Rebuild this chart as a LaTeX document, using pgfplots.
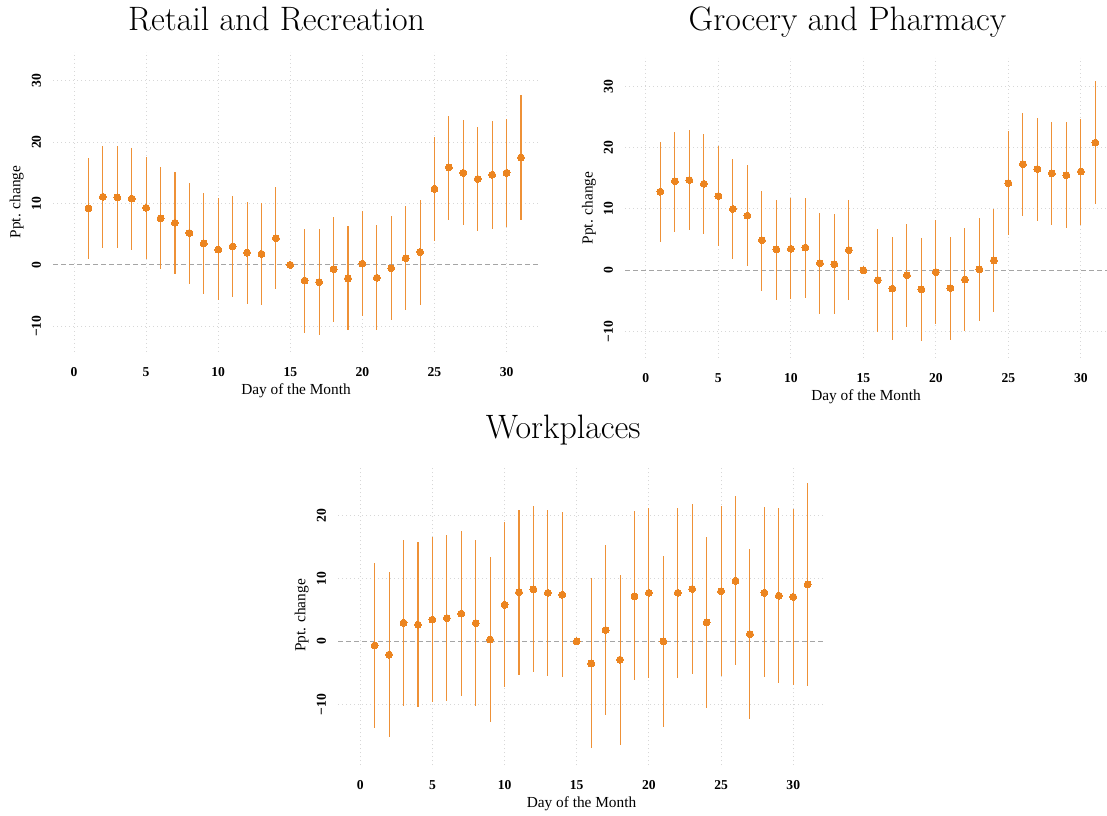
\documentclass[border=0pt]{standalone}
\usepackage{pgfplots}
\pgfplotsset{compat=1.18}
\usepackage{pgfplotstable}
\usepackage{fontspec}
\newfontfamily\labfont{Liberation Serif}
\definecolor{dotc}{RGB}{236,133,32}
\definecolor{barc}{RGB}{238,145,55}
\definecolor{gridc}{RGB}{215,215,215}
\definecolor{zeroc}{RGB}{165,165,165}

\pgfplotstableread{
d v lo hi
1 9.24 0.9 17.4
2 11.1 2.8 19.3
3 11.0 2.7 19.3
4 10.8 2.4 19.0
5 9.3 1.0 17.6
6 7.6 -0.7 15.9
7 6.85 -1.5 15.1
8 5.2 -3.1 13.4
9 3.5 -4.8 11.7
10 2.5 -5.8 10.9
11 3.0 -5.3 11.3
12 2.0 -6.4 10.2
13 1.8 -6.6 10.05
14 4.35 -4.0 12.7
15 0 0 0
16 -2.55 -11.1 5.9
17 -2.8 -11.4 5.8
18 -0.7 -9.3 7.8
19 -2.2 -10.65 6.4
20 0.2 -8.3 8.75
21 -2.1 -10.65 6.5
22 -0.55 -9.0 8.0
23 1.1 -7.4 9.6
24 2.1 -6.5 10.6
25 12.4 3.9 20.9
26 15.9 7.3 24.3
27 15.0 6.5 23.6
28 14.0 5.5 22.55
29 14.7 5.9 23.4
30 15.0 6.2 23.75
31 17.5 7.3 27.7
}\retail

\pgfplotstableread{
d v lo hi
1 12.8 4.6 20.9
2 14.5 6.25 22.6
3 14.7 6.5 22.9
4 14.1 5.9 22.2
5 12.1 4.0 20.3
6 10.0 1.8 18.15
7 8.9 0.7 17.1
8 4.9 -3.3 13.0
9 3.4 -4.8 11.5
10 3.5 -4.7 11.7
11 3.7 -4.5 11.85
12 1.15 -7.1 9.3
13 1.0 -7.2 9.2
14 3.3 -4.9 11.4
15 0 0 0
16 -1.6 -10.0 6.7
17 -3.0 -11.4 5.4
18 -0.8 -9.2 7.6
19 -3.1 -11.5 5.3
20 -0.3 -8.7 8.2
21 -2.9 -11.3 5.5
22 -1.5 -9.9 6.9
23 0.15 -8.3 8.5
24 1.6 -6.85 10.0
25 14.2 5.8 22.7
26 17.3 8.9 25.7
27 16.5 8.1 24.9
28 15.8 7.3 24.2
29 15.5 6.85 24.2
30 16.1 7.4 24.7
31 20.8 10.8 30.9
}\grocery

\pgfplotstableread{
d v lo hi
1 -0.65 -13.7 12.4
2 -2.1 -15.2 11.0
3 2.95 -10.2 16.1
4 2.65 -10.4 15.8
5 3.45 -9.6 16.6
6 3.7 -9.4 16.8
7 4.4 -8.7 17.5
8 2.9 -10.2 16.0
9 0.3 -12.8 13.4
10 5.8 -7.3 19.0
11 7.8 -5.3 20.85
12 8.25 -4.8 21.4
13 7.7 -5.45 20.85
14 7.4 -5.7 20.5
15 0 0 0
16 -3.5 -16.9 10.0
17 1.8 -11.7 15.3
18 -2.9 -16.4 10.5
19 7.15 -6.2 20.6
20 7.7 -5.8 21.2
21 0.0 -13.5 13.5
22 7.7 -5.8 21.2
23 8.3 -5.2 21.75
24 3.0 -10.5 16.5
25 7.95 -5.55 21.4
26 9.6 -3.8 23.1
27 1.15 -12.3 14.65
28 7.7 -5.7 21.3
29 7.25 -6.55 21.2
30 7.05 -6.9 21.0
31 9.05 -7.05 25.1
}\workplaces

\pgfplotsset{
  panel/.style={
    scale only axis,
    axis line style={draw=none},
    major tick length=0pt,
    tick style={draw=none},
    xmajorgrids, ymajorgrids,
    grid style={gridc, line width=0.75pt, dash pattern=on 0.75pt off 2.25pt},
    xtick={0,5,...,30},
    xticklabels={0,5,10,15,20,25,30},
    xticklabel style={font=\labfont\bfseries\fontsize{10.2}{11}\selectfont, anchor=north, inner sep=0pt, yshift=-11.5pt},
    yticklabel style={font=\labfont\bfseries\fontsize{10.2}{11}\selectfont, rotate=90, anchor=south, inner sep=0pt, inner ysep=8.8pt},
    xlabel={Day of the Month},
    ylabel={Ppt. change},
    label style={font=\labfont\fontsize{11.5}{13}\selectfont},
    xlabel style={at={(axis description cs:0.5,0)}, anchor=base, yshift=-31.7pt},
    ylabel style={at={(axis description cs:-0.067,0.5)}, anchor=base},
    title style={font=\fontsize{25.4}{30}\selectfont, anchor=base},
  },
  bars/.style={only marks, mark=none, color=barc, forget plot,
    error bars/.cd, y dir=both, y explicit, error mark=none,
    error bar style={line width=0.8pt, color=barc}},
  pts/.style={only marks, mark=*, mark size=2.6pt, color=dotc,
    mark options={draw=dotc, fill=dotc, line width=0pt}},
  zl/.style={zeroc, line width=0.75pt, dash pattern=on 3.75pt off 2.25pt, forget plot},
}

\begin{document}
\begin{tikzpicture}
\useasboundingbox (0pt,0pt) rectangle (830.25pt,611.25pt);

\begin{axis}[panel, at={(39.75pt,347.25pt)}, anchor=south west,
  width=364.5pt, height=225pt,
  xmin=-1.46, xmax=32.25, ymin=-14.2, ymax=34.7,
  ytick={-10,0,10,20,30}, yticklabels={−10,0,10,20,30},
  title={Retail and Recreation},
  title style={at={(axis description cs:0.46,1)}, yshift=9.75pt}]
\addplot[zl] coordinates {(-1.46,0) (32.25,0)};
\addplot[bars] table[x=d, y=v, y error plus expr=\thisrow{hi}-\thisrow{v}, y error minus expr=\thisrow{v}-\thisrow{lo}] {\retail};
\addplot[pts] table[x=d, y=v] {\retail};
\end{axis}

\begin{axis}[panel, at={(468.75pt,342.75pt)}, anchor=south west,
  width=361.5pt, height=225pt,
  xmin=-1.44, xmax=31.8, ymin=-14.3, ymax=34.6,
  ytick={-10,0,10,20,30}, yticklabels={−10,0,10,20,30},
  title={Grocery and Pharmacy},
  title style={at={(axis description cs:0.4616,1)}, yshift=14.5pt}]
\addplot[zl] coordinates {(-1.44,0) (31.8,0)};
\addplot[bars] table[x=d, y=v, y error plus expr=\thisrow{hi}-\thisrow{v}, y error minus expr=\thisrow{v}-\thisrow{lo}] {\grocery};
\addplot[pts] table[x=d, y=v] {\grocery};
\end{axis}

\begin{axis}[panel, at={(253.5pt,37.5pt)}, anchor=south west,
  width=365.25pt, height=224.25pt,
  xmin=-1.54, xmax=32.2, ymin=-19.6, ymax=27.8,
  ytick={-10,0,10,20}, yticklabels={−10,0,10,20},
  title={Workplaces},
  title style={at={(axis description cs:0.4626,1)}, yshift=14.8pt}]
\addplot[zl] coordinates {(-1.54,0) (32.2,0)};
\addplot[bars] table[x=d, y=v, y error plus expr=\thisrow{hi}-\thisrow{v}, y error minus expr=\thisrow{v}-\thisrow{lo}] {\workplaces};
\addplot[pts] table[x=d, y=v] {\workplaces};
\end{axis}
\end{tikzpicture}
\end{document}
